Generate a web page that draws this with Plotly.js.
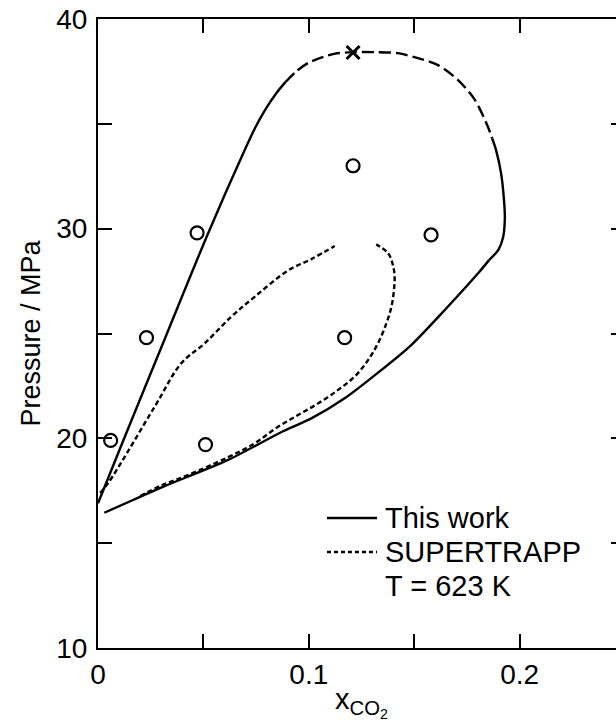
<!DOCTYPE html>
<html>
<head>
<meta charset="utf-8">
<script src="https://cdn.plot.ly/plotly-3.0.1.min.js"></script>
<style>
html,body{margin:0;padding:0;overflow:hidden;background:#fff;width:616px;height:723px;}
#chart{width:625px;height:723px;}
</style>
</head>
<body>
<div id="chart"></div>
<script>
// ---- data (x = mole fraction CO2, P = pressure / MPa) ----
// "This work": left (solid) branch
const workLeftX = [0.000, 0.0119, 0.0319, 0.0519, 0.0696, 0.0745, 0.0795, 0.0845, 0.0890];
const workLeftP = [16.9, 19.87, 24.8, 29.7, 33.75, 34.8, 35.7, 36.45, 37.0];
// "This work": top (long-dashed) part around the critical point
const workTopX = [0.0890, 0.0940, 0.1000, 0.1070, 0.1125, 0.1210, 0.1320, 0.1423, 0.1518, 0.1613, 0.1708, 0.1788, 0.1850, 0.1870];
const workTopP = [37.0, 37.5, 37.92, 38.2, 38.35, 38.42, 38.42, 38.37, 38.13, 37.80, 37.09, 36.14, 34.85, 34.3];
// "This work": right side (solid) down to the corner
const workSideX = [0.1870, 0.1888, 0.1912, 0.1926, 0.1930, 0.1922, 0.1900, 0.1855];
const workSideP = [34.3, 33.76, 32.65, 31.36, 30.5, 29.6, 29.0, 28.5];
// "This work": lower (solid) branch
const workLowX = [0.1855, 0.1803, 0.1645, 0.1486, 0.1328, 0.1170, 0.1012, 0.0880, 0.0617, 0.0316, 0.0166, 0.0030];
const workLowP = [28.5, 27.87, 26.12, 24.45, 23.13, 21.91, 20.95, 20.35, 18.97, 17.72, 17.06, 16.45];
// SUPERTRAPP: upper piece
const stUpperX = [0.0010, 0.0047, 0.0269, 0.0395, 0.0506, 0.0632, 0.0743, 0.0901, 0.1012, 0.1123];
const stUpperP = [17.40, 17.85, 21.51, 23.58, 24.53, 25.80, 26.75, 28.0, 28.55, 29.17];
// SUPERTRAPP: lower piece
const stLowerX = [0.0200, 0.0300, 0.0427, 0.0617, 0.0743, 0.0854, 0.0949, 0.1045, 0.1139, 0.1218, 0.1281, 0.1328, 0.1368, 0.1392, 0.1404, 0.1407, 0.1399, 0.1376, 0.1320];
const stLowerP = [17.25, 17.75, 18.25, 19.10, 19.76, 20.55, 21.11, 21.67, 22.31, 22.95, 23.73, 24.53, 25.48, 26.28, 27.07, 27.71, 28.27, 28.83, 29.25];
// experimental points (open circles)
const expX = [0.006, 0.023, 0.047, 0.051, 0.121, 0.158, 0.117];
const expP = [19.9, 24.8, 29.8, 19.7, 33.0, 29.7, 24.8];
// calculated critical point (cross)
const critX = [0.121];
const critP = [38.4];
// tick labels
const xTickVals = [0, 0.05, 0.1, 0.15, 0.2];
const xTickText = ['0', '', '0.1', '', '0.2'];
const yTickVals = [10, 15, 20, 25, 30, 35, 40];
const yTickText = ['10', '', '20', '', '30', '', '40'];
// legend texts
const legendNames = ['This work', 'SUPERTRAPP'];
const conditionText = 'T = 623 K';

const FONT = 'Liberation Sans, Arial, Helvetica, sans-serif';
const LW = 2.4;
const SOLID = {color: '#000', width: LW, shape: 'spline', smoothing: 0.8};
const LONGDASH = {color: '#000', width: LW, dash: '12px,5px', shape: 'spline', smoothing: 0.8};
const SHORTDASH = {color: '#000', width: LW, dash: '5px,3px', shape: 'spline', smoothing: 1.0};

const traces = [
  {x: workLeftX, y: workLeftP, mode: 'lines', name: legendNames[0], line: SOLID, showlegend: false},
  {x: workTopX, y: workTopP, mode: 'lines', name: legendNames[0], line: LONGDASH, showlegend: false},
  {x: workSideX, y: workSideP, mode: 'lines', name: legendNames[0], line: SOLID, showlegend: false},
  {x: workLowX, y: workLowP, mode: 'lines', name: legendNames[0], line: SOLID, showlegend: false},
  {x: stUpperX, y: stUpperP, mode: 'lines', name: legendNames[1], line: SHORTDASH, showlegend: false},
  {x: stLowerX, y: stLowerP, mode: 'lines', name: legendNames[1], line: SHORTDASH, showlegend: false},
  {x: expX, y: expP, mode: 'markers', name: 'experiment', showlegend: false,
   marker: {symbol: 'circle-open', size: 13, color: '#000', line: {width: 2.2, color: '#000'}}},
  {x: critX, y: critP, mode: 'markers', name: 'critical point', showlegend: false,
   marker: {symbol: 'x-thin', size: 13, color: '#000', line: {width: 3, color: '#000'}}}
];

const axisCommon = {
  showline: true, linecolor: '#000', linewidth: 2, mirror: 'ticks',
  ticks: 'inside', ticklen: 14, tickwidth: 2, tickcolor: '#000',
  showgrid: false, zeroline: false,
  tickfont: {family: FONT, size: 28, color: '#000'}
};

// legend drawn in plot-area (paper) coordinates
const L = {x0: 0.4345, x1: 0.5294, tx: 0.5408, y1: 0.2067, y2: 0.1526, y3: 0.0986};

const layout = {
  width: 625, height: 723,
  margin: {l: 98, r: 0, t: 19, b: 75},
  paper_bgcolor: '#fff', plot_bgcolor: '#fff',
  font: {family: FONT, color: '#000'},
  xaxis: Object.assign({}, axisCommon, {
    range: [0, 0.25], tickmode: 'array', tickvals: xTickVals, ticktext: xTickText,
    title: {text: 'x<sub>CO<sub>2</sub></sub>', font: {family: FONT, size: 29, color: '#000'}, standoff: 0}
  }),
  yaxis: Object.assign({}, axisCommon, {
    range: [10, 40], tickmode: 'array', tickvals: yTickVals, ticktext: yTickText,
    ticklabelstandoff: 3,
    title: {text: 'Pressure / MPa', font: {family: FONT, size: 27, color: '#000'}, standoff: 8}
  }),
  showlegend: false,
  shapes: [
    {type: 'line', xref: 'paper', yref: 'paper', x0: L.x0, x1: L.x1, y0: L.y1, y1: L.y1,
     line: {color: '#000', width: LW}},
    {type: 'line', xref: 'paper', yref: 'paper', x0: L.x0, x1: L.x1, y0: L.y2, y1: L.y2,
     line: {color: '#000', width: LW, dash: '4px,3px'}}
  ],
  annotations: [
    {xref: 'paper', yref: 'paper', x: L.tx, y: L.y1, xanchor: 'left', yanchor: 'middle',
     text: legendNames[0], showarrow: false, font: {family: FONT, size: 29, color: '#000'}},
    {xref: 'paper', yref: 'paper', x: L.tx, y: L.y2, xanchor: 'left', yanchor: 'middle',
     text: legendNames[1], showarrow: false, font: {family: FONT, size: 29, color: '#000'}},
    {xref: 'paper', yref: 'paper', x: L.tx, y: L.y3, xanchor: 'left', yanchor: 'middle',
     text: conditionText, showarrow: false, font: {family: FONT, size: 29, color: '#000'}}
  ]
};

Plotly.newPlot('chart', traces, layout, {displayModeBar: false, staticPlot: true});
</script>
</body>
</html>
